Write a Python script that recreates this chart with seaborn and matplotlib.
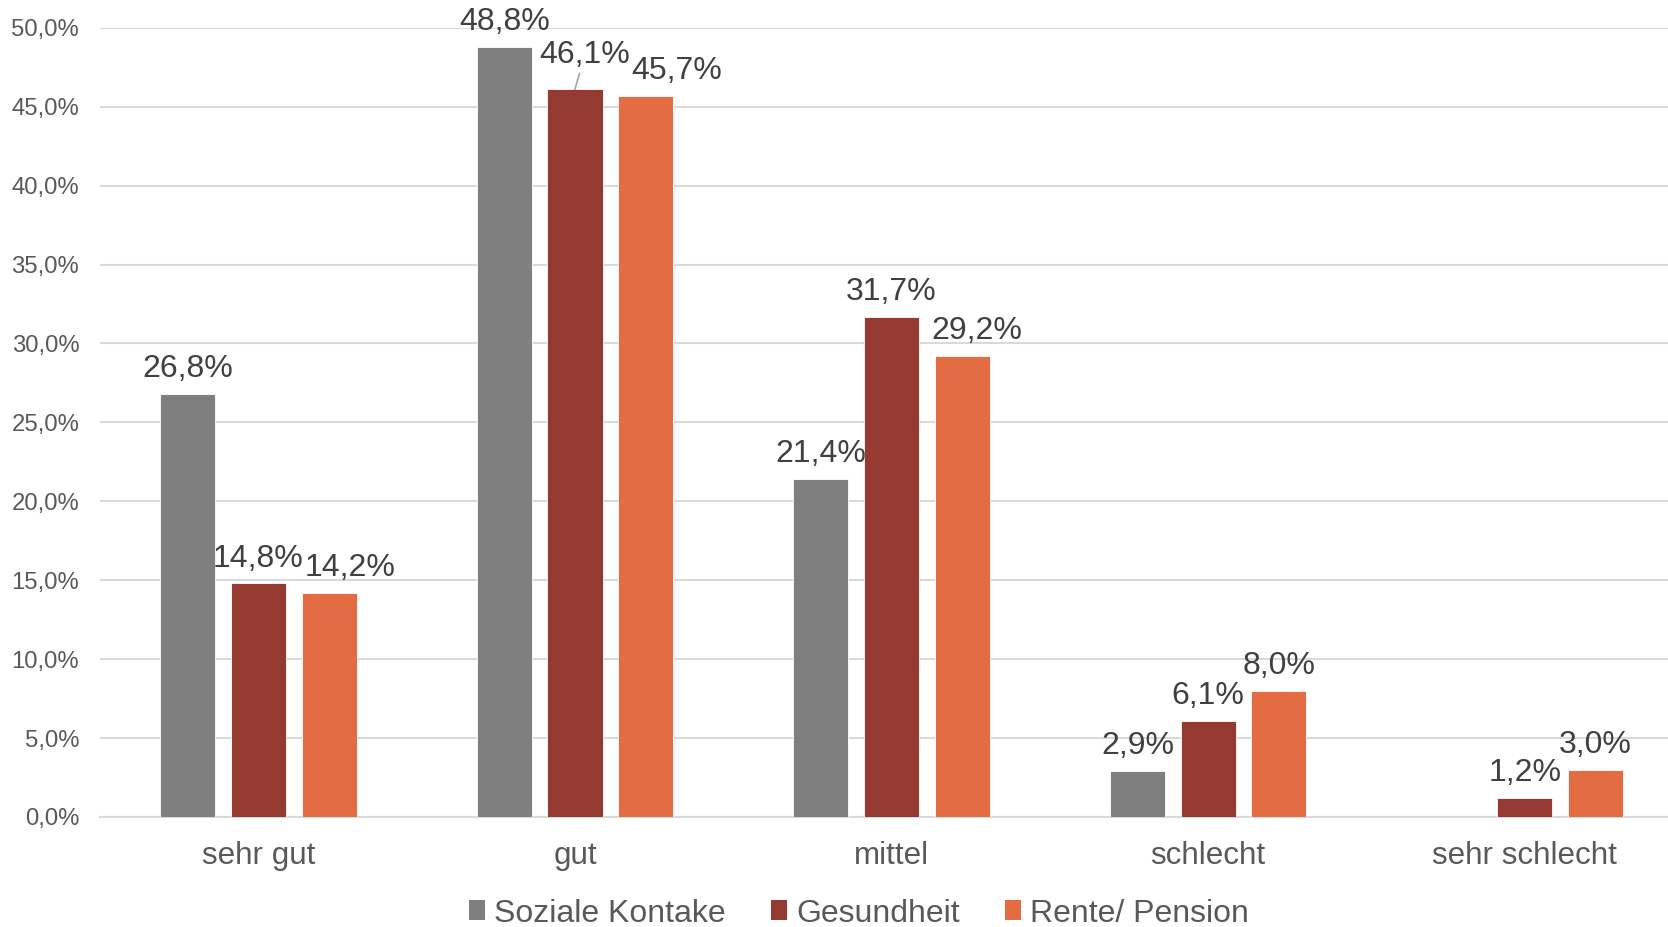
import numpy as np
import pandas as pd
import matplotlib
matplotlib.use("Agg")
import matplotlib.pyplot as plt
from matplotlib.patches import Patch
from matplotlib.ticker import FuncFormatter, MultipleLocator
import seaborn as sns

categories = ["sehr gut", "gut", "mittel", "schlecht", "sehr schlecht"]
series = ["Soziale Kontake", "Gesundheit", "Rente/ Pension"]
soziale_kontake = [26.8, 48.8, 21.4, 2.9, np.nan]
gesundheit = [14.8, 46.1, 31.7, 6.1, 1.2]
rente_pension = [14.2, 45.7, 29.2, 8.0, 3.0]
colors = ["#7F7F7F", "#943A30", "#E46C43"]

# nudges (in points) for labels that would otherwise collide
label_nudge = {
    ("Rente/ Pension", "sehr gut"): (15, 7),
    ("Rente/ Pension", "gut"): (22, 7),
    ("Rente/ Pension", "mittel"): (10.5, 7),
    ("Gesundheit", "gut"): (7, 14),
}
leader_lines = {("Gesundheit", "gut")}

rows = []
for name, vals in zip(series, [soziale_kontake, gesundheit, rente_pension]):
    for cat, v in zip(categories, vals):
        if not np.isnan(v):
            rows.append({"Kategorie": cat, "Reihe": name, "Wert": v})
df = pd.DataFrame(rows)

sns.set_theme(style="white")
plt.rcParams["font.family"] = ["Liberation Sans", "DejaVu Sans"]

fig = plt.figure(figsize=(16.68, 9.27), dpi=100)
ax = fig.add_axes([0.06, 0.1187, 0.949, 0.8513])

sns.barplot(data=df, x="Kategorie", y="Wert", hue="Reihe",
            order=categories, hue_order=series, palette=colors,
            width=0.67, gap=0.22, saturation=1, errorbar=None,
            edgecolor="white", linewidth=0.6, legend=False, ax=ax, zorder=3)

ax.set_ylim(0, 50)
ax.set_xlim(-0.5, len(categories) - 0.5)
ax.yaxis.set_major_locator(MultipleLocator(5))
ax.yaxis.set_major_formatter(FuncFormatter(lambda v, p: f"{v:.1f}%".replace(".", ",")))
ax.grid(axis="y", color="#D9D9D9", linewidth=1.5, zorder=0)
ax.set_axisbelow(True)
for s in ["top", "right", "left"]:
    ax.spines[s].set_visible(False)
ax.spines["bottom"].set_color("#D9D9D9")
ax.spines["bottom"].set_linewidth(1.5)
ax.set_xlabel("")
ax.set_ylabel("")
ax.tick_params(axis="y", length=0, pad=15, labelsize=17.2, labelcolor="#595959")
ax.tick_params(axis="x", length=0, pad=17, labelsize=22.6, labelcolor="#595959")

# value labels above each bar
for container, name in zip(ax.containers, series):
    cats = list(df[df["Reihe"] == name]["Kategorie"])
    for bar, cat in zip(container, cats):
        h = bar.get_height()
        cx = bar.get_x() + bar.get_width() / 2
        txt = f"{h:.1f}%".replace(".", ",")
        dx, dy = label_nudge.get((name, cat), (0, 7))
        kw = {}
        if (name, cat) in leader_lines:
            kw["arrowprops"] = dict(arrowstyle="-", color="#A6A6A6", lw=1.2,
                                    shrinkA=0, shrinkB=0)
        ax.annotate(txt, xy=(cx, h), xytext=(dx, dy), textcoords="offset points",
                    ha="center", va="bottom", fontsize=23, color="#404040",
                    zorder=5, **kw)

handles = [Patch(facecolor=c, edgecolor="none") for c in colors]
fig.legend(handles, series, loc="center", bbox_to_anchor=(0.515, 0.0145),
           ncol=3, frameon=False, fontsize=23, handlelength=0.5, handleheight=0.6,
           handletextpad=0.3, columnspacing=1.4, labelcolor="#595959",
           borderpad=0.0)

fig.savefig("out.png", dpi=100)
